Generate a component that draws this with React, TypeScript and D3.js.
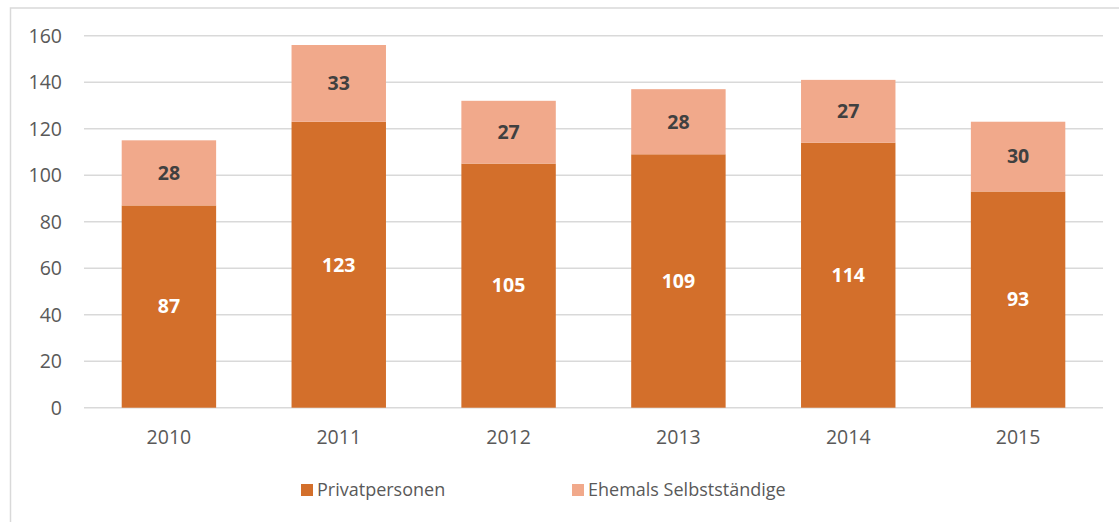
import React from "react";
import * as d3 from "d3";

const years = ["2010", "2011", "2012", "2013", "2014", "2015"];
const privatpersonen = [87, 123, 105, 109, 114, 93];
const ehemals = [28, 33, 27, 28, 27, 30];
const yTicks = [0, 20, 40, 60, 80, 100, 120, 140, 160];
const seriesNames = ["Privatpersonen", "Ehemals Selbstständige"];
const colors = ["#D36F2B", "#F1A98B"];

const W = 1119;
const H = 522;
const FONT = "'Open Sans', sans-serif";

export default function App() {
  const x = d3.scaleBand<string>().domain(years).range([84, 1103]).paddingInner(0.444).paddingOuter(0.222);
  const y = d3.scaleLinear().domain([0, 160]).range([407.7, 35.7]);

  const rows = years.map((yr, i) => ({ year: yr, p: privatpersonen[i], e: ehemals[i] }));
  const stack = d3.stack<any>().keys(["p", "e"])(rows);

  return (
    <svg width={W} height={H} style={{ position: "absolute", left: 0, top: 0, background: "#fff" }}>
      <rect x={10.5} y={8} width={1130} height={540} fill="#fff" stroke="#D9D9D9" strokeWidth={1.5} />
      {yTicks.map((t) => (
        <g key={t}>
          <line x1={84} x2={1103} y1={y(t)} y2={y(t)} stroke="#D9D9D9" strokeWidth={1.4} />
          <text x={62} y={y(t)} dy="0.35em" textAnchor="end" fontFamily={FONT} fontSize={19.5} fill="#595959">
            {t}
          </text>
        </g>
      ))}
      {stack.map((s, si) => (
        <g key={si}>
          {s.map((d, i) => {
            const y0 = y(d[0]);
            const y1 = y(d[1]);
            const bx = x(years[i])!;
            return (
              <g key={i}>
                <rect x={bx} y={y1} width={x.bandwidth()} height={y0 - y1} fill={colors[si]} />
                <text
                  x={bx + x.bandwidth() / 2}
                  y={(y0 + y1) / 2}
                  dy="0.35em"
                  textAnchor="middle"
                  fontFamily={FONT}
                  fontWeight="bold"
                  fontSize={19.5}
                  fill={si === 0 ? "#FFFFFF" : "#404040"}
                >
                  {d[1] - d[0]}
                </text>
              </g>
            );
          })}
        </g>
      ))}
      {years.map((yr) => (
        <text
          key={yr}
          x={x(yr)! + x.bandwidth() / 2}
          y={437}
          dy="0.35em"
          textAnchor="middle"
          fontFamily={FONT}
          fontSize={19.5}
          fill="#595959"
        >
          {yr}
        </text>
      ))}
      {seriesNames.map((n, i) => {
        const lx = i === 0 ? 301 : 572;
        return (
          <g key={n}>
            <rect x={lx} y={484} width={12} height={12} fill={colors[i]} />
            <text x={lx + 16} y={490} dy="0.35em" fontFamily={FONT} fontSize={18} fill="#595959">
              {n}
            </text>
          </g>
        );
      })}
    </svg>
  );
}
